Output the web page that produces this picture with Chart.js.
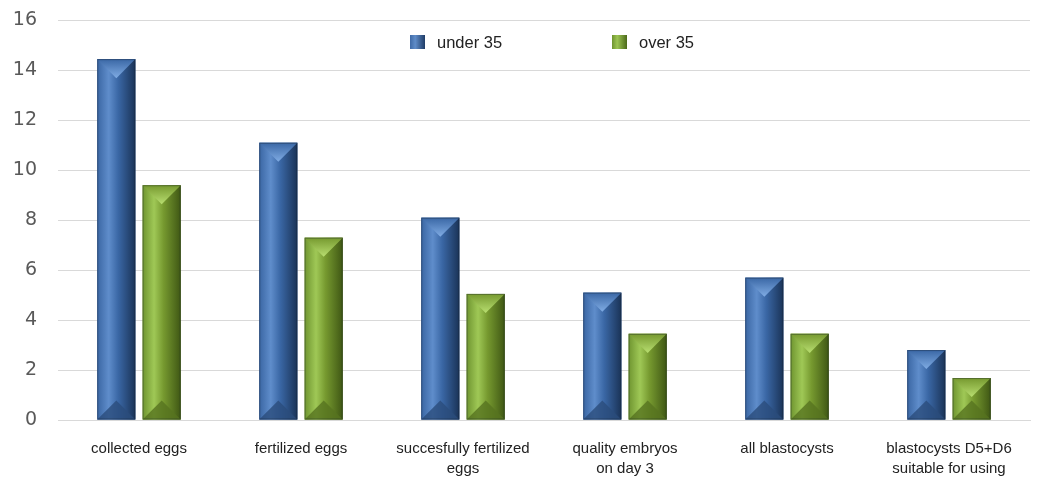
<!DOCTYPE html>
<html>
<head>
<meta charset="utf-8">
<script src="https://cdn.jsdelivr.net/npm/chart.js@4"></script>
<style>
  html, body { margin: 0; padding: 0; background: #fff; }
  #wrap { position: relative; width: 1041px; height: 480px; overflow: hidden; }
  #myChart { position: absolute; left: 0; top: -12px; }
  .legend { position: absolute; top: 33px; font: 16.5px "Liberation Sans", sans-serif; color: #222; }
  .legend span.box { display: inline-block; width: 15px; height: 14px; vertical-align: -1px; margin-right: 12px; }
  .b1 { background: linear-gradient(90deg, #3f6aa6, #5f8cc8 35%, #1f3c66); }
  .b2 { background: linear-gradient(90deg, #6f9430, #9cc452 35%, #4c6a1b); }
</style>
</head>
<body>
<div id="wrap">
  <canvas id="myChart" width="1041" height="492"></canvas>
  <div class="legend" style="left:410px"><span class="box b1"></span>under 35</div>
  <div class="legend" style="left:612px"><span class="box b2"></span>over 35</div>
</div>
<script>
const categories = [
  'collected eggs',
  'fertilized eggs',
  ['succesfully fertilized', 'eggs'],
  ['quality embryos', 'on day 3'],
  'all blastocysts',
  ['blastocysts D5+D6', 'suitable for using']
];
const under35 = [14.45, 11.1, 8.1, 5.1, 5.7, 2.8];
const over35 = [9.4, 7.3, 5.05, 3.45, 3.45, 1.68];
const yTicks = { min: 0, max: 16, step: 2 };

/* bevel bars */
const looks = [
  { edge: '#3a66a3', light: '#5f8dcb', mid: '#3a67a5', dark: '#1a3357', top: '#80ace4', bottom: '#2a4c7c' },
  { edge: '#6f9530', light: '#9fc856', mid: '#76992f', dark: '#3f5714', top: '#b8de70', bottom: '#56731f' }
];

const bevel = {
  id: 'bevel',
  afterDatasetsDraw(chart) {
    const c = chart.ctx;
    chart.data.datasets.forEach((ds, i) => {
      const lk = looks[i];
      chart.getDatasetMeta(i).data.forEach(bar => {
        const w = bar.width, L = bar.x - w / 2, R = bar.x + w / 2, T = bar.y, B = bar.base;
        const h = B - T;
        const d = Math.min(w * 0.5, h / 2);
        const g = c.createLinearGradient(L, 0, R, 0);
        g.addColorStop(0, lk.edge);
        g.addColorStop(0.3, lk.light);
        g.addColorStop(0.55, lk.mid);
        g.addColorStop(1, lk.dark);
        c.save();
        c.fillStyle = g;
        c.fillRect(L, T, w, h);
        // top face
        const gt = c.createLinearGradient(0, T, 0, T + d);
        gt.addColorStop(0, lk.mid);
        gt.addColorStop(1, lk.top);
        c.fillStyle = gt;
        c.beginPath();
        c.moveTo(L, T); c.lineTo(R, T); c.lineTo(R - 3, T + 3); c.lineTo(bar.x, T + d); c.lineTo(L + 3, T + 3);
        c.closePath(); c.fill();
        // bottom face
        c.fillStyle = lk.bottom;
        c.globalAlpha = 0.8;
        c.beginPath();
        c.moveTo(L, B); c.lineTo(R, B); c.lineTo(bar.x, B - d);
        c.closePath(); c.fill();
        c.globalAlpha = 1;
        c.strokeStyle = 'rgba(20,30,40,0.35)';
        c.lineWidth = 1;
        c.strokeRect(L + 0.5, T + 0.5, w - 1, h - 1);
        c.restore();
      });
    });
  }
};

const ctx = document.getElementById('myChart');

new Chart(ctx, {
  type: 'bar',
  data: {
    labels: categories,
    datasets: [
      { label: 'under 35', data: under35, backgroundColor: '#3a67a5', barPercentage: 0.84, categoryPercentage: 0.56 },
      { label: 'over 35', data: over35, backgroundColor: '#76992f', barPercentage: 0.84, categoryPercentage: 0.56 }
    ]
  },
  options: {
    responsive: false,
    animation: false,
    layout: { padding: { top: 0, right: 11, left: 0, bottom: 0 } },
    plugins: { legend: { display: false }, tooltip: { enabled: false } },
    scales: {
      x: {
        grid: { display: false },
        border: { color: '#d9d9d9' },
        afterFit(scale) { scale.height = 60; },
        ticks: { color: '#222', padding: 11, maxRotation: 0, autoSkip: false, font: { family: 'Liberation Sans', size: 15, lineHeight: 1.33 } }
      },
      y: {
        min: yTicks.min,
        max: yTicks.max,
        afterFit(scale) { scale.width = 58; },
        grid: { color: '#d9d9d9', drawTicks: false },
        border: { display: false },
        ticks: { stepSize: yTicks.step, color: '#595959', padding: 21, font: { family: 'DejaVu Sans', size: 19 } }
      }
    }
  },
  plugins: [bevel]
});
</script>
</body>
</html>
